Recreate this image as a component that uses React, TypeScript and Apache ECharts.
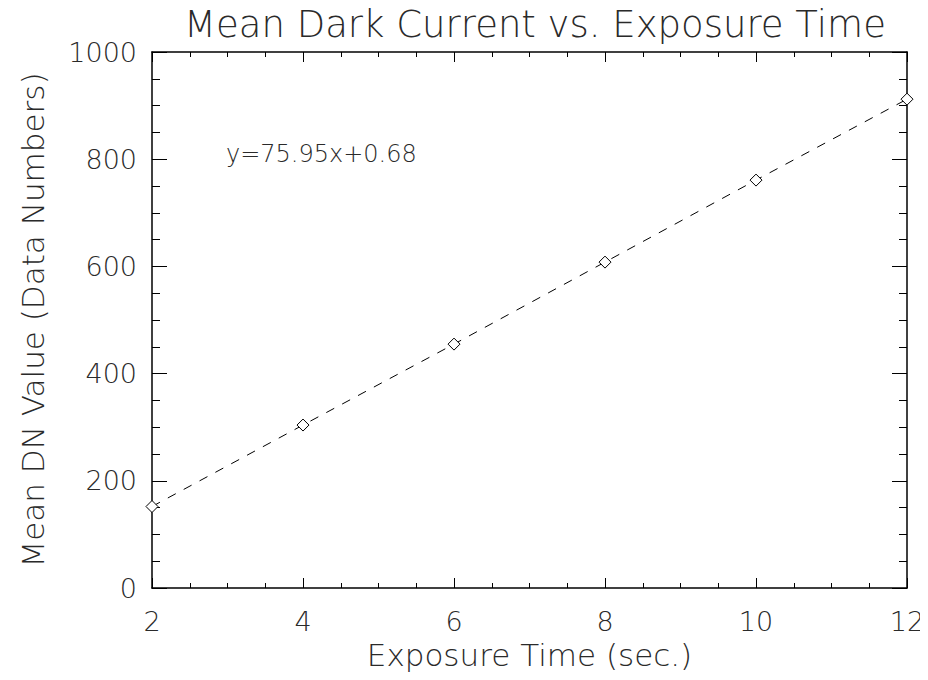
import React, { useEffect, useRef } from "react";
import * as echarts from "echarts";

const exposureTimes = [2, 4, 6, 8, 10, 12];
const meanDN = [152, 304, 455, 608, 761, 912];
const titleText = "Mean Dark Current vs. Exposure Time";
const xName = "Exposure Time (sec.)";
const yName = "Mean DN Value (Data Numbers)";
const fitText = "y=75.95x+0.68";

const FONT = "DejaVu Sans";
const TXT = "#2a2a2a";

export default function App() {
  const ref = useRef<HTMLDivElement>(null);
  useEffect(() => {
    if (!ref.current) return;
    const chart = echarts.init(ref.current, undefined, { renderer: "svg" });
    const axisLine = { show: true, onZero: false, lineStyle: { color: "#000", width: 1.5 } };
    const xCommon = {
      type: "value",
      min: 2,
      max: 12,
      interval: 2,
      splitLine: { show: false },
      axisLine,
      axisTick: { show: true, inside: true, length: 10, lineStyle: { color: "#000" } },
      minorTick: { show: true, splitNumber: 4, length: 5, lineStyle: { color: "#000" } },
    };
    const yCommon = {
      type: "value",
      min: 0,
      max: 1000,
      interval: 200,
      splitLine: { show: false },
      axisLine,
      axisTick: { show: true, inside: true, length: 15, lineStyle: { color: "#000" } },
      minorTick: { show: true, splitNumber: 4, length: 8, lineStyle: { color: "#000" } },
    };
    chart.setOption({
      animation: false,
      backgroundColor: "#fff",
      title: {
        text: titleText,
        left: 530,
        top: 1,
        textAlign: "center",
        textStyle: { fontFamily: FONT, fontSize: 37, fontWeight: "lighter", color: TXT },
      },
      grid: { left: 152, right: 21, top: 52, bottom: 92 },
      xAxis: [
        {
          ...xCommon,
          position: "bottom",
          name: xName,
          nameLocation: "middle",
          nameGap: 48,
          nameTextStyle: { fontFamily: FONT, fontSize: 31, fontWeight: "lighter", color: TXT },
          axisLabel: { margin: 20, fontFamily: FONT, fontSize: 27, fontWeight: "lighter", color: TXT },
        },
        { ...xCommon, position: "top", axisLabel: { show: false } },
      ],
      yAxis: [
        {
          ...yCommon,
          position: "left",
          name: yName,
          nameLocation: "middle",
          nameGap: 104,
          nameTextStyle: { fontFamily: FONT, fontSize: 31, fontWeight: "lighter", color: TXT },
          axisLabel: {
            margin: 15,
            fontFamily: FONT,
            fontSize: 27,
            fontWeight: "lighter",
            color: TXT,
            formatter: (v: number) => String(v),
          },
        },
        { ...yCommon, position: "right", axisLabel: { show: false } },
      ],
      graphic: [
        {
          type: "text",
          left: 226,
          top: 142,
          style: { text: fitText, fontFamily: FONT, fontSize: 24, fontWeight: "lighter", fill: TXT },
        },
      ],
      series: [
        {
          type: "line",
          data: exposureTimes.map((x, i) => [x, meanDN[i]]),
          symbol: "diamond",
          symbolSize: 12,
          showSymbol: true,
          lineStyle: { color: "#000", width: 1, type: [9, 9] },
          itemStyle: { color: "#fff", borderColor: "#000", borderWidth: 1 },
          clip: false,
        },
      ],
    });
    return () => chart.dispose();
  }, []);
  return <div ref={ref} style={{ width: 928, height: 680, margin: -8 }} />;
}
